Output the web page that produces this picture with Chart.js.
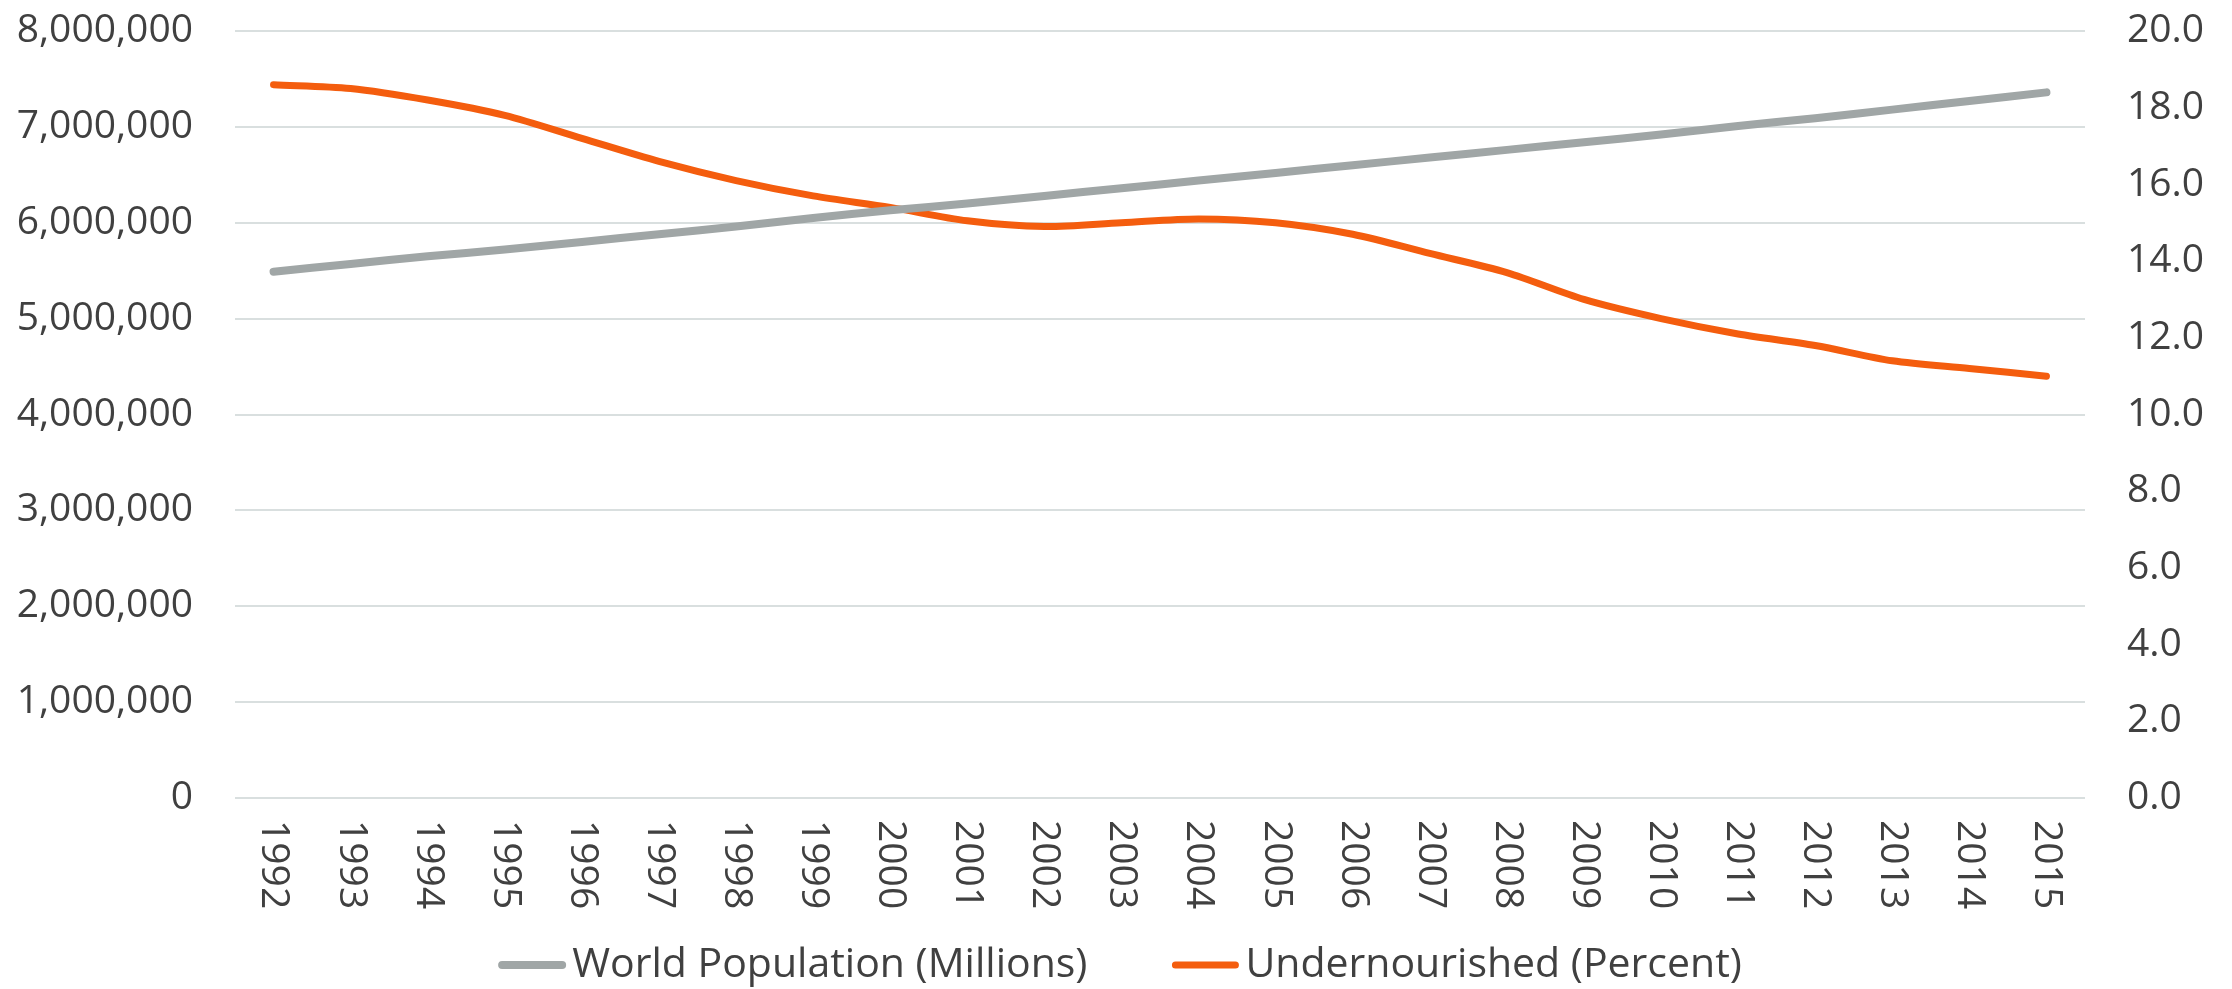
<!DOCTYPE html>
<html>
<head>
<meta charset="utf-8">
<script src="https://cdn.jsdelivr.net/npm/chart.js@4/dist/chart.umd.min.js"></script>
<style>
  html, body { margin: 0; padding: 0; background: #ffffff; }
  #wrap { width: 2232px; height: 989px; }
</style>
</head>
<body>
<div id="wrap"><canvas id="grafica"></canvas></div>
<script>
// data
const years = ['1992', '1993', '1994', '1995', '1996', '1997', '1998', '1999', '2000', '2001', '2002', '2003',
               '2004', '2005', '2006', '2007', '2008', '2009', '2010', '2011', '2012', '2013', '2014', '2015'];
const population = [5490000, 5570000, 5650000, 5720000, 5800000, 5880000, 5960000, 6050000, 6130000, 6200000, 6280000, 6360000,
                    6440000, 6520000, 6600000, 6680000, 6760000, 6840000, 6920000, 7010000, 7090000, 7180000, 7270000, 7360000];
const undernourished = [18.6, 18.5, 18.2, 17.8, 17.2, 16.6, 16.1, 15.7, 15.4, 15.05, 14.9, 15.0,
                        15.1, 15.0, 14.7, 14.2, 13.7, 13.0, 12.5, 12.1, 11.8, 11.4, 11.2, 11.0];
const seriesNames = ['World Population (Millions)', 'Undernourished (Percent)'];
const leftMax = 8000000, leftStep = 1000000;
const rightMax = 20, rightStep = 2;

const textColor = '#404040';
const fontFam = '"Open Sans", sans-serif';
const fontSize = 39;
const legendFontSize = 41;

// x labels read top to bottom, so they are drawn here instead of by the axis
const verticalLabels = {
    id: 'verticalLabels',
    afterDraw(chart) {
        const ctx = chart.ctx;
        const xs = chart.scales.x;
        ctx.save();
        ctx.fillStyle = textColor;
        ctx.font = fontSize + 'px ' + fontFam;
        ctx.textAlign = 'left';
        ctx.textBaseline = 'middle';
        xs.ticks.forEach((t, i) => {
            const x = xs.getPixelForTick(i);
            ctx.save();
            ctx.translate(x, chart.chartArea.bottom + 22);
            ctx.rotate(Math.PI / 2);
            ctx.fillText(years[i], 0, 0);
            ctx.restore();
        });
        ctx.restore();
    }
};

// legend like the Excel one: short line, text right after it
const lineLegend = {
    id: 'lineLegend',
    afterDraw(chart) {
        const ctx = chart.ctx;
        const lineLen = 68, gapText = 6, gapItem = 84;
        ctx.save();
        ctx.font = legendFontSize + 'px ' + fontFam;
        ctx.textBaseline = 'middle';
        ctx.textAlign = 'left';
        const items = chart.data.datasets.map(ds => ({
            text: ds.label, color: ds.borderColor, lw: ds.borderWidth,
            w: ctx.measureText(ds.label).width
        }));
        let total = 0;
        items.forEach((it, i) => { total += lineLen + gapText + it.w + (i ? gapItem : 0); });
        let x = chart.width / 2 + 4 - total / 2;
        const y = 965;
        items.forEach(it => {
            ctx.strokeStyle = it.color;
            ctx.lineWidth = it.lw;
            ctx.lineCap = 'round';
            ctx.beginPath();
            ctx.moveTo(x + 4, y);
            ctx.lineTo(x + lineLen - 4, y);
            ctx.stroke();
            ctx.fillStyle = textColor;
            ctx.fillText(it.text, x + lineLen + gapText, y);
            x += lineLen + gapText + it.w + gapItem;
        });
        ctx.restore();
    }
};

Chart.defaults.font.family = fontFam;
Chart.defaults.font.size = fontSize;
Chart.defaults.color = textColor;

new Chart(document.getElementById('grafica'), {
    type: 'line',
    data: {
        labels: years,
        datasets: [{
            label: seriesNames[0],
            data: population,
            yAxisID: 'y',
            borderColor: '#a0a6a6',
            backgroundColor: '#a0a6a6',
            borderWidth: 8,
            borderCapStyle: 'round',
            pointRadius: 0,
            tension: 0.3
        }, {
            label: seriesNames[1],
            data: undernourished,
            yAxisID: 'y1',
            borderColor: '#f45d0e',
            backgroundColor: '#f45d0e',
            borderWidth: 7,
            borderCapStyle: 'round',
            pointRadius: 0,
            tension: 0.3
        }]
    },
    options: {
        responsive: true,
        maintainAspectRatio: false,
        animation: false,
        layout: { padding: { top: 0, left: 0, right: 0, bottom: 0 } },
        plugins: {
            tooltip: { enabled: false },
            legend: { display: false }
        },
        scales: {
            x: {
                offset: true,
                grid: { display: false },
                border: { display: false },
                ticks: { color: 'rgba(0,0,0,0)', minRotation: 90, maxRotation: 90, autoSkip: false },
                afterFit(s) { s.height = 191; }
            },
            y: {
                position: 'left',
                min: 0,
                max: leftMax,
                grid: { color: '#d9dfdf', lineWidth: 2, drawTicks: false },
                border: { display: false },
                ticks: {
                    stepSize: leftStep,
                    padding: 42,
                    callback: v => v.toLocaleString('en-US')
                },
                afterFit(s) { s.width = 235; s.paddingTop = 31; s.paddingBottom = 0; }
            },
            y1: {
                position: 'right',
                min: 0,
                max: rightMax,
                grid: { drawOnChartArea: false, drawTicks: false },
                border: { display: false },
                ticks: {
                    stepSize: rightStep,
                    padding: 42,
                    callback: v => v.toFixed(1)
                },
                afterFit(s) { s.width = 147; s.paddingTop = 31; s.paddingBottom = 0; }
            }
        }
    },
    plugins: [verticalLabels, lineLegend]
});
</script>
</body>
</html>
